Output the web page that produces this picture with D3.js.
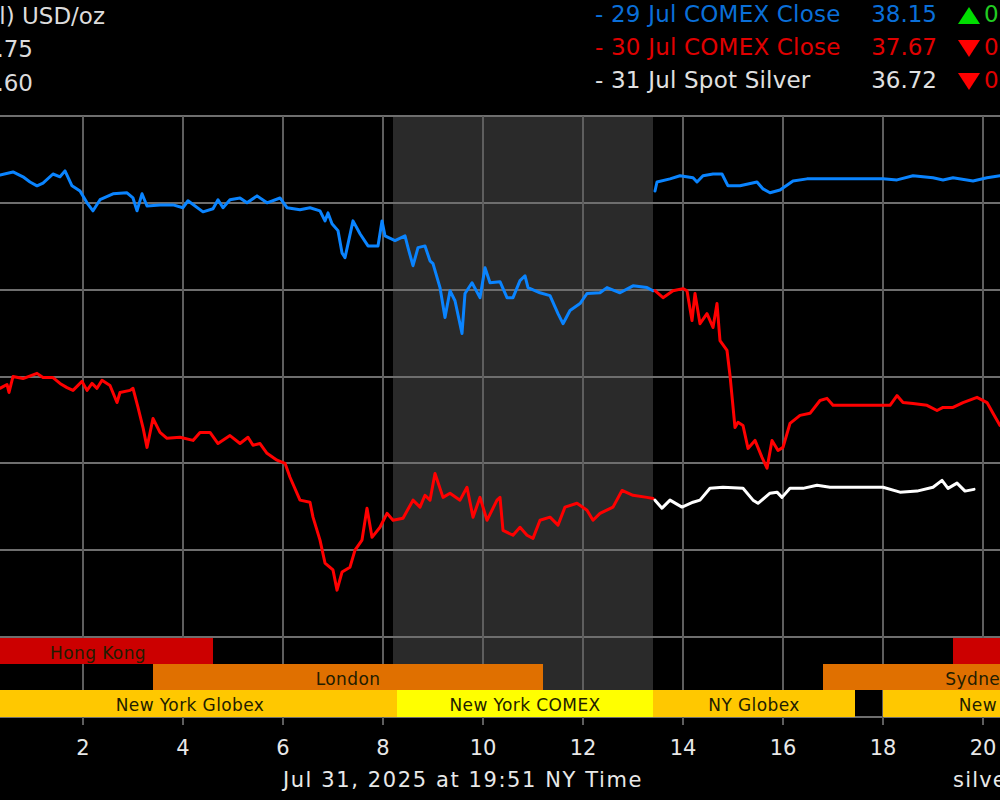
<!DOCTYPE html>
<html><head><meta charset="utf-8">
<script src="https://d3js.org/d3.v7.min.js"></script>
<style>html,body{margin:0;padding:0;background:#000;overflow:hidden}</style>
</head><body><svg id="c" width="1000" height="800"></svg>
<script>
// ---------- data ----------
const priceTicks = [36.30, 36.55, 36.80, 37.05, 37.30, 37.55, 37.80];
const hourTicks = [2, 4, 6, 8, 10, 12, 14, 16, 18, 20];

// 29 Jul COMEX (blue) – [hour, price]
const jul29A = [[0.34,37.630],[0.60,37.639],[0.80,37.625],[0.94,37.610],[1.08,37.599],[1.20,37.607],[1.40,37.633],[1.54,37.625],[1.64,37.642],[1.78,37.599],[1.94,37.584],[2.08,37.550],[2.20,37.527],[2.34,37.559],[2.60,37.576],[2.88,37.579],[3.00,37.564],[3.08,37.527],[3.18,37.576],[3.28,37.541],[3.54,37.544],[3.80,37.544],[4.00,37.536],[4.10,37.556],[4.40,37.524],[4.60,37.533],[4.70,37.559],[4.80,37.536],[4.94,37.559],[5.14,37.564],[5.28,37.550],[5.48,37.570],[5.68,37.550],[5.94,37.564],[6.08,37.536],[6.34,37.530],[6.54,37.536],[6.74,37.527],[6.84,37.498],[6.90,37.521],[6.98,37.490],[7.10,37.470],[7.18,37.406],[7.24,37.392],[7.30,37.432],[7.40,37.498],[7.54,37.461],[7.70,37.426],[7.90,37.426],[7.98,37.498],[8.04,37.455],[8.24,37.441],[8.44,37.455],[8.50,37.421],[8.60,37.369],[8.70,37.421],[8.84,37.426],[8.94,37.383],[9.00,37.375],[9.14,37.306],[9.24,37.220],[9.34,37.297],[9.44,37.268],[9.58,37.174],[9.64,37.289],[9.78,37.320],[9.94,37.277],[10.04,37.363],[10.14,37.320],[10.34,37.323],[10.48,37.277],[10.60,37.277],[10.74,37.326],[10.84,37.340],[10.90,37.306],[11.14,37.291],[11.34,37.283],[11.50,37.231],[11.60,37.202],[11.74,37.240],[11.94,37.260],[12.08,37.289],[12.34,37.291],[12.48,37.306],[12.74,37.291],[13.00,37.311],[13.28,37.306],[13.40,37.297]];
const jul29B = [[13.44,37.584],[13.48,37.610],[13.74,37.619],[13.94,37.628],[14.20,37.622],[14.28,37.610],[14.40,37.628],[14.60,37.633],[14.78,37.633],[14.90,37.599],[15.14,37.599],[15.48,37.610],[15.60,37.590],[15.74,37.579],[15.94,37.587],[16.20,37.613],[16.48,37.619],[16.88,37.619],[18.00,37.619],[18.28,37.616],[18.60,37.628],[19.00,37.622],[19.20,37.616],[19.40,37.622],[19.80,37.613],[20.08,37.622],[20.34,37.628]];

// 30 Jul COMEX (red)
const jul30A = [[0.34,37.016],[0.48,37.027],[0.52,37.004],[0.60,37.050],[0.80,37.044],[1.08,37.059],[1.20,37.047],[1.40,37.047],[1.54,37.030],[1.68,37.018],[1.80,37.010],[1.98,37.036],[2.08,37.010],[2.18,37.030],[2.28,37.016],[2.38,37.039],[2.54,37.024],[2.68,36.975],[2.74,37.004],[2.94,37.010],[3.00,37.016],[3.10,36.961],[3.20,36.903],[3.28,36.846],[3.40,36.929],[3.54,36.889],[3.68,36.872],[3.94,36.875],[4.20,36.866],[4.34,36.889],[4.54,36.889],[4.70,36.857],[4.94,36.880],[5.14,36.857],[5.30,36.875],[5.40,36.852],[5.54,36.857],[5.68,36.829],[5.88,36.809],[6.04,36.800],[6.14,36.760],[6.34,36.694],[6.54,36.688],[6.60,36.645],[6.74,36.579],[6.84,36.513],[7.00,36.493],[7.08,36.435],[7.18,36.487],[7.34,36.501],[7.44,36.550],[7.58,36.579],[7.68,36.671],[7.78,36.587],[7.94,36.616],[8.08,36.656],[8.20,36.636],[8.40,36.642],[8.60,36.694],[8.74,36.674],[8.84,36.708],[8.94,36.694],[9.04,36.771],[9.20,36.702],[9.34,36.714],[9.54,36.694],[9.68,36.731],[9.80,36.645],[9.94,36.702],[10.08,36.636],[10.28,36.694],[10.34,36.702],[10.40,36.607],[10.60,36.593],[10.74,36.616],[10.88,36.593],[11.00,36.584],[11.14,36.636],[11.34,36.645],[11.50,36.622],[11.64,36.674],[11.88,36.685],[12.08,36.665],[12.20,36.636],[12.34,36.656],[12.60,36.674],[12.78,36.722],[13.00,36.708],[13.28,36.702],[13.40,36.699]];
const jul30B = [[13.44,37.297],[13.60,37.277],[13.80,37.297],[14.00,37.303],[14.08,37.297],[14.18,37.211],[14.24,37.289],[14.34,37.202],[14.48,37.231],[14.60,37.191],[14.68,37.260],[14.74,37.153],[14.88,37.125],[14.94,37.053],[15.04,36.903],[15.10,36.918],[15.20,36.909],[15.30,36.843],[15.44,36.866],[15.58,36.817],[15.68,36.786],[15.78,36.866],[15.90,36.837],[16.00,36.846],[16.14,36.915],[16.34,36.938],[16.54,36.944],[16.74,36.981],[16.88,36.987],[17.00,36.967],[18.14,36.967],[18.28,36.995],[18.40,36.975],[18.60,36.972],[18.88,36.967],[19.08,36.952],[19.20,36.961],[19.40,36.961],[19.60,36.975],[19.88,36.990],[20.08,36.975],[20.20,36.944],[20.34,36.909]];

// 31 Jul Spot (white)
const jul31 = [[13.44,36.694],[13.58,36.671],[13.74,36.694],[13.98,36.674],[14.20,36.688],[14.34,36.694],[14.54,36.728],[14.80,36.731],[15.20,36.728],[15.40,36.694],[15.50,36.685],[15.74,36.714],[15.88,36.717],[15.98,36.702],[16.14,36.728],[16.40,36.728],[16.68,36.737],[16.94,36.731],[18.00,36.731],[18.34,36.717],[18.68,36.720],[19.00,36.731],[19.18,36.751],[19.30,36.728],[19.48,36.743],[19.64,36.720],[19.82,36.725]];

const legendLabels = ["- 29 Jul COMEX Close", "- 30 Jul COMEX Close", "- 31 Jul Spot Silver"];
const legendValues = ["38.15", "37.67", "36.72"];
const legendChanges = ["0.15", "0.48", "0.95"];
const legendDirs = ["up", "down", "down"];
const headerLeft = ["Silver (Intl) USD/oz", "High 36.75", "Low 36.60"];
const comexWindow = [8.2, 13.4];

const sessionLabels = ["Hong Kong", "Hong Kong", "London", "Sydney", "New York Globex", "New York COMEX", "NY Globex", "New York Globex"];
const sessionRows   = [0, 0, 1, 1, 2, 2, 2, 2];
const sessionStart  = [0, 19.4, 3.4, 16.8, 0, 8.28, 13.4, 18.0];
const sessionEnd    = [4.6, 24, 11.2, 23, 8.28, 13.4, 17.44, 24];
const sessionKinds  = ["asia", "asia", "europe", "europe", "globex", "comex", "globex", "globex"];

const dateLabel = "Jul 31, 2025 at 19:51 NY Time";
const sourceLabel = "silverseek.com";

// ---------- drawing ----------
const W = 1000, H = 800;
const plotTop = 116, plotBottom = 637;
const rowTops = [638, 664, 690], rowBottom = 717;
const kindColor = {asia: "#cc0000", europe: "#e07000", globex: "#ffc800", comex: "#ffff00"};
const lineColors = ["#0a84ff", "#ff0000", "#ffffff"];
const textColors = ["#0a6fd8", "#e00000", "#e0e0e0"];
const font = "'DejaVu Sans', Verdana, sans-serif";

const svg = d3.select("#c");
svg.append("rect").attr("width", W).attr("height", H).attr("fill", "#000");

const x = d3.scaleLinear().domain([0, 20]).range([-17, 983]);
const y = d3.scaleLinear().domain([36.30, 37.80]).range([plotBottom, plotTop]);

// COMEX shaded window
svg.append("rect")
  .attr("x", x(comexWindow[0])).attr("y", plotTop)
  .attr("width", x(comexWindow[1]) - x(comexWindow[0]))
  .attr("height", rowTops[2] - plotTop)
  .attr("fill", "#2a2a2a");

// horizontal grid
svg.append("g").selectAll("line").data(priceTicks).join("line")
  .attr("x1", 0).attr("x2", W)
  .attr("y1", d => Math.round(y(d))).attr("y2", d => Math.round(y(d)))
  .attr("stroke", "#6e6e6e").attr("stroke-width", 2);
svg.append("line").attr("x1", 0).attr("x2", W).attr("y1", rowBottom).attr("y2", rowBottom)
  .attr("stroke", "#6e6e6e").attr("stroke-width", 2);

// vertical grid + ticks
svg.append("g").selectAll("line").data(hourTicks).join("line")
  .attr("x1", d => x(d)).attr("x2", d => x(d))
  .attr("y1", plotTop).attr("y2", 725)
  .attr("stroke", "#5e5e5e").attr("stroke-width", 2);

// session bands
const sess = sessionLabels.map((l, i) => ({label: l, row: sessionRows[i], s: sessionStart[i], e: sessionEnd[i], kind: sessionKinds[i]}));
const bandH = r => (r === 2 ? rowBottom : rowTops[r + 1]) - rowTops[r];
const bg = svg.append("g");
bg.selectAll("rect").data(sess).join("rect")
  .attr("x", d => x(d.s)).attr("width", d => x(d.e) - x(d.s))
  .attr("y", d => rowTops[d.row]).attr("height", d => bandH(d.row))
  .attr("fill", d => kindColor[d.kind]);
bg.selectAll("text").data(sess).join("text")
  .attr("x", d => (x(d.s) + x(d.e)) / 2).attr("y", d => rowTops[d.row] + 21)
  .attr("text-anchor", "middle").attr("font-family", font).attr("font-size", 17)
  .attr("letter-spacing", 0.4)
  .attr("fill", "#221d00").text(d => d.label);

// lines
const line = d3.line().x(d => x(d[0])).y(d => y(d[1]));
const series = [[jul29A, 0], [jul29B, 0], [jul30A, 1], [jul30B, 1], [jul31, 2]];
svg.append("g").selectAll("path").data(series).join("path")
  .attr("d", d => line(d[0]))
  .attr("fill", "none").attr("stroke", d => lineColors[d[1]])
  .attr("stroke-width", 3).attr("stroke-linejoin", "round").attr("stroke-linecap", "round");

// x tick labels
svg.append("g").selectAll("text").data(hourTicks).join("text")
  .attr("x", d => x(d)).attr("y", 755).attr("text-anchor", "middle")
  .attr("font-family", font).attr("font-size", 21).attr("fill", "#e8e8e8")
  .text(d => d);

svg.append("text").attr("x", 463).attr("y", 787).attr("text-anchor", "middle")
  .attr("font-family", font).attr("font-size", 21).attr("letter-spacing", 1.6)
  .attr("fill", "#e8e8e8").text(dateLabel);
svg.append("text").attr("x", 953).attr("y", 787)
  .attr("font-family", font).attr("font-size", 21).attr("letter-spacing", 1.2)
  .attr("fill", "#e8e8e8").text(sourceLabel);

// header left
const leftBase = [24, 57, 91];
const leftEnd = [105, 33, 33];
svg.append("g").selectAll("text").data(headerLeft).join("text")
  .attr("x", (d, i) => leftEnd[i]).attr("y", (d, i) => leftBase[i]).attr("text-anchor", "end")
  .attr("font-family", font).attr("font-size", 23).attr("fill", "#dcdcdc").text(d => d);

// header right (legend)
const legBase = [22, 55, 88];
const lg = svg.append("g");
legendLabels.forEach((lab, i) => {
  lg.append("text").attr("x", 595).attr("y", legBase[i])
    .attr("font-family", font).attr("font-size", 23).attr("letter-spacing", 0.2)
    .attr("fill", textColors[i]).text(lab);
  lg.append("text").attr("x", 937).attr("y", legBase[i]).attr("text-anchor", "end")
    .attr("font-family", font).attr("font-size", 23).attr("fill", textColors[i]).text(legendValues[i]);
  const up = legendDirs[i] === "up";
  const cx = 969, top = legBase[i] - 15, bot = legBase[i] + 2;
  const pts = up ? [[958, bot], [980, bot], [cx, top]] : [[958, top], [980, top], [cx, bot]];
  lg.append("path").attr("d", "M" + pts.map(p => p.join(",")).join("L") + "Z")
    .attr("fill", up ? "#00dd00" : "#ff0000");
  lg.append("text").attr("x", 984).attr("y", legBase[i])
    .attr("font-family", font).attr("font-size", 23).attr("fill", up ? "#22cc22" : "#e00000").text(legendChanges[i]);
});
</script>
</body></html>
